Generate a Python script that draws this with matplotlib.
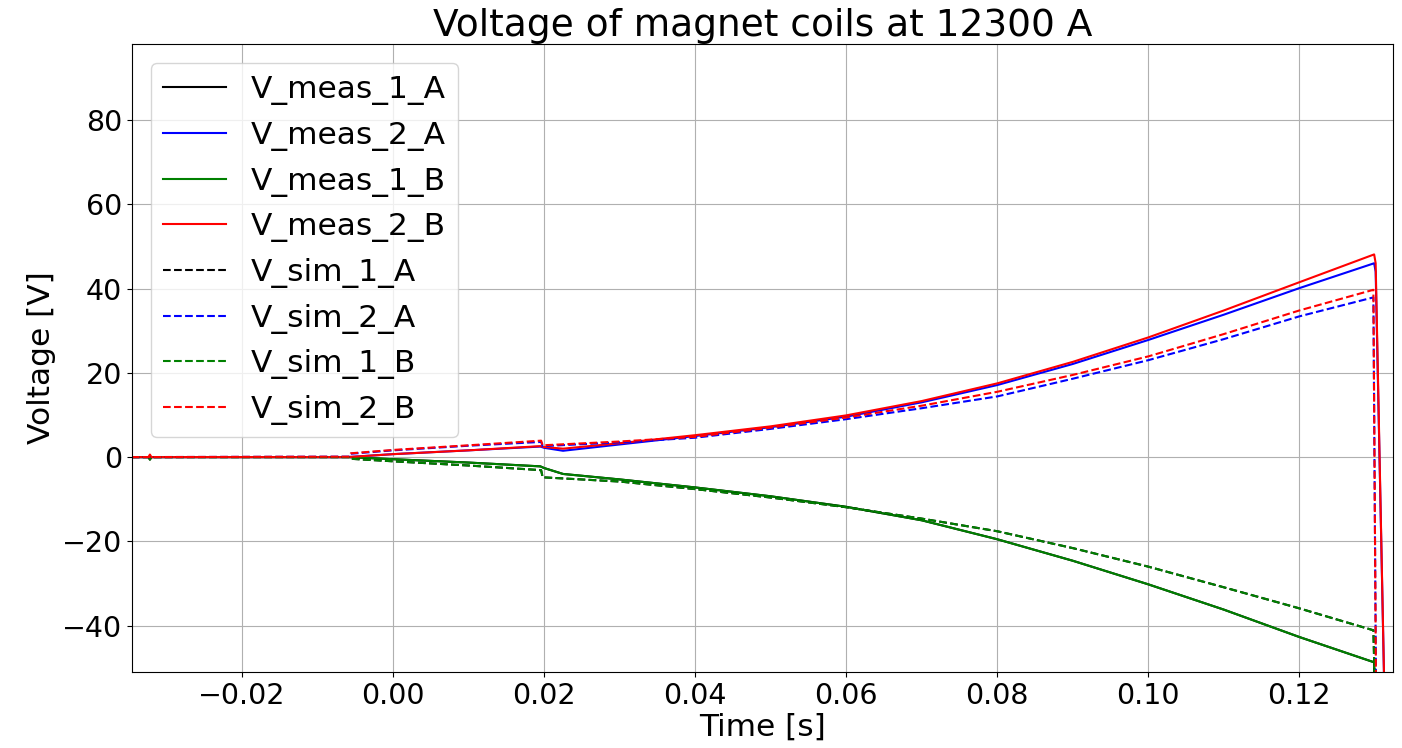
import matplotlib
matplotlib.use("Agg")
import matplotlib.pyplot as plt

# time axis of the measured and simulated signals [s]
t_meas = [-0.0346, -0.0324, -0.0322, -0.0320, -0.006, 0.0, 0.01, 0.0195, 0.0200, 0.0225,
          0.03, 0.04, 0.05, 0.06, 0.07, 0.08, 0.09, 0.10, 0.11, 0.12, 0.1299, 0.1301, 0.1313, 0.1330]
t_sim = [-0.0346, -0.0058, -0.0056, 0.0, 0.01, 0.0196, 0.0198, 0.03, 0.04, 0.05, 0.06,
         0.07, 0.08, 0.09, 0.10, 0.11, 0.12, 0.1298, 0.1302, 0.1330]

# measured voltages [V]
V_meas_1_B = [0, 0, -0.6, 0, 0, -0.5, -1.3, -2.2, -2.6, -4.0, -5.3, -7.2, -9.3, -11.8, -15.0,
              -19.5, -24.6, -30.2, -36.2, -42.7, -48.7, -70, -70, -70]
V_meas_1_A = V_meas_1_B  # coil 1A lies under coil 1B
V_meas_2_A = [0, 0, 0, 0, 0, 0.7, 1.6, 2.5, 2.2, 1.5, 3.0, 5.0, 7.1, 9.6, 13.0, 17.1, 22.1,
              27.8, 33.8, 40.1, 46.0, 44.0, -60, -60]
V_meas_2_B = [0, 0, 0.6, 0, 0, 0.7, 1.6, 2.6, 2.4, 2.0, 3.3, 5.2, 7.3, 9.9, 13.3, 17.5, 22.6,
              28.4, 34.8, 41.5, 48.1, 46.0, -60, -60]

# simulated voltages [V]
V_sim_1_B = [0, 0, -0.4, -1.0, -2.0, -3.1, -4.8, -5.8, -7.6, -9.6, -11.9, -14.6, -17.6, -21.6,
             -26.0, -30.9, -35.9, -41.1, -70, -70]
V_sim_1_A = V_sim_1_B
V_sim_2_A = [0, 0.1, 0.8, 1.6, 2.7, 3.6, 2.6, 3.5, 4.6, 6.7, 9.0, 11.6, 14.4, 18.6, 23.0, 28.0,
             33.4, 37.9, -70, -70]
V_sim_2_B = [0, 0.1, 0.9, 1.7, 2.8, 3.9, 2.8, 3.7, 4.8, 7.0, 9.4, 12.2, 15.5, 19.5, 23.9, 29.2,
             34.8, 39.7, -70, -70]

fig, ax = plt.subplots(figsize=(14.02, 7.48), dpi=100)
fig.subplots_adjust(left=0.094, right=0.9936, bottom=0.1016, top=0.941)

ax.plot(t_meas, V_meas_1_A, color="black", lw=1.5, label="V_meas_1_A")
ax.plot(t_meas, V_meas_2_A, color="blue", lw=1.5, label="V_meas_2_A")
ax.plot(t_meas, V_meas_1_B, color="green", lw=1.5, label="V_meas_1_B")
ax.plot(t_meas, V_meas_2_B, color="red", lw=1.5, label="V_meas_2_B")
ax.plot(t_sim, V_sim_1_A, color="black", ls="--", lw=1.5, label="V_sim_1_A")
ax.plot(t_sim, V_sim_2_A, color="blue", ls="--", lw=1.5, label="V_sim_2_A")
ax.plot(t_sim, V_sim_1_B, color="green", ls="--", lw=1.5, label="V_sim_1_B")
ax.plot(t_sim, V_sim_2_B, color="red", ls="--", lw=1.5, label="V_sim_2_B")

ax.set_xlim(-0.0346, 0.1324)
ax.set_ylim(-51, 98)
ax.set_title("Voltage of magnet coils at 12300 A", fontsize=27)
ax.set_xlabel("Time [s]", fontsize=22.5, labelpad=2)
ax.set_ylabel("Voltage [V]", fontsize=22.5)
ax.tick_params(labelsize=20.5)
ax.grid(True)
ax.legend(loc="upper left", fontsize=22.5, borderaxespad=0.6)

fig.savefig("out.png", dpi=100)
